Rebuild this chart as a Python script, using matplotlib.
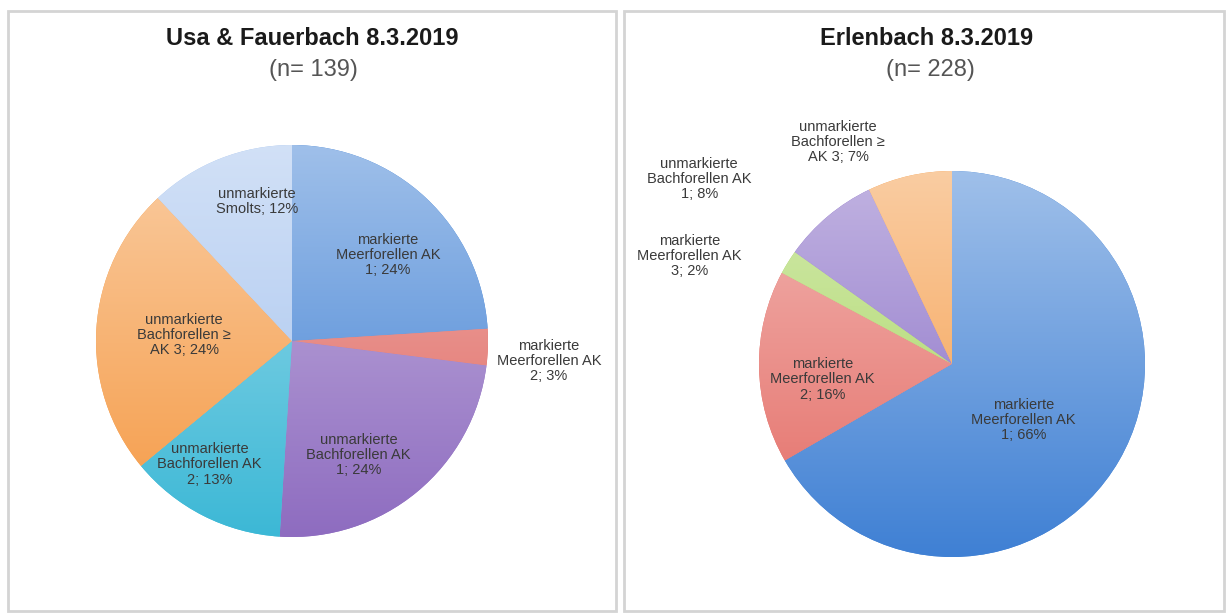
import numpy as np
import matplotlib
matplotlib.use('Agg')
import matplotlib.pyplot as plt
from matplotlib.colors import to_rgb
from matplotlib.patches import Rectangle

plt.rcParams['font.family'] = ['Liberation Sans', 'DejaVu Sans']

# Usa & Fauerbach 8.3.2019 (n= 139)
usa_labels = ['markierte\nMeerforellen AK\n1; 24%',
              'markierte\nMeerforellen AK\n2; 3%',
              'unmarkierte\nBachforellen AK\n1; 24%',
              'unmarkierte\nBachforellen AK\n2; 13%',
              'unmarkierte\nBachforellen \u2265\nAK 3; 24%',
              'unmarkierte\nSmolts; 12%']
usa_values = [24, 3, 24, 13, 24, 12]
usa_colors = ['#3f80d4', '#e0665f', '#8e6cc0', '#3cb8d6', '#f59a45', '#a4c2ee']
# Lage der Beschriftungen (in Radien vom Mittelpunkt)
usa_label_pos = [(0.49, 0.44), (1.31, -0.10), (0.34, -0.58),
                 (-0.42, -0.63), (-0.55, 0.03), (-0.18, 0.71)]

# Erlenbach 8.3.2019 (n= 228)
erl_labels = ['markierte\nMeerforellen AK\n1; 66%',
              'markierte\nMeerforellen AK\n2; 16%',
              'markierte\nMeerforellen AK\n3; 2%',
              'unmarkierte\nBachforellen AK\n1; 8%',
              'unmarkierte\nBachforellen \u2265\nAK 3; 7%']
erl_values = [66, 16, 2, 8, 7]
erl_colors = ['#3f80d4', '#e46b64', '#a6d45c', '#8468c4', '#f59a45']
erl_label_pos = [(0.37, -0.29), (-0.67, -0.08), (-1.36, 0.56),
                 (-1.31, 0.96), (-0.59, 1.15)]

W, H = 1229, 615
fig = plt.figure(figsize=(W / 100, H / 100), dpi=100)


def px_box(x0, y0, x1, y1):
    # Pixelrechteck (von oben gemessen) -> Figurkoordinaten
    return [x0 / W, 1 - y1 / H, (x1 - x0) / W, (y1 - y0) / H]


def draw_pie(box, values, colors, labels, label_pos):
    ax = fig.add_axes(box)
    wedges, _ = ax.pie(values, colors=colors, startangle=90, counterclock=False,
                       radius=1, wedgeprops=dict(linewidth=0))
    # Farbverlauf von oben (hell) nach unten (kräftig) wie in Excel
    t = np.linspace(0, 1, 256)[:, None]
    for w, c in zip(wedges, colors):
        rgb = np.array(to_rgb(c))
        top = rgb + (1 - rgb) * 0.50
        grad = top * (1 - t) + rgb * t
        img = np.repeat(grad[:, None, :], 2, axis=1)
        im = ax.imshow(img, extent=(-1, 1, -1, 1), origin='upper',
                       aspect='auto', zorder=2)
        im.set_clip_path(w)
    for lab, (x, y) in zip(labels, label_pos):
        ax.text(x, y, lab, ha='center', va='center', fontsize=10.5,
                color='#3a3a3a', linespacing=1.1, zorder=5, clip_on=False)
    ax.set_xlim(-1, 1)
    ax.set_ylim(-1, 1)
    ax.set_aspect('equal')
    ax.axis('off')
    return ax


# Rahmen der beiden Diagramme
for x0, x1 in [(8, 616), (624, 1224)]:
    fig.patches.append(Rectangle((x0 / W, 1 - 611 / H), (x1 - x0) / W, 600 / H,
                                 transform=fig.transFigure, fill=False,
                                 edgecolor='#d4d4d4', linewidth=2))

draw_pie(px_box(96, 145, 488, 537), usa_values, usa_colors, usa_labels, usa_label_pos)
draw_pie(px_box(759, 171, 1145, 557), erl_values, erl_colors, erl_labels, erl_label_pos)

fig.text(312 / W, 1 - 45 / H, 'Usa & Fauerbach 8.3.2019', ha='center', va='baseline',
         fontsize=17, fontweight='bold', color='#1a1a1a')
fig.text(313 / W, 1 - 76 / H, '(n= 139)', ha='center', va='baseline',
         fontsize=17, color='#555555')
fig.text(927 / W, 1 - 45 / H, 'Erlenbach 8.3.2019', ha='center', va='baseline',
         fontsize=17, fontweight='bold', color='#1a1a1a')
fig.text(930 / W, 1 - 76 / H, '(n= 228)', ha='center', va='baseline',
         fontsize=17, color='#555555')

fig.savefig('out.png', dpi=100)
